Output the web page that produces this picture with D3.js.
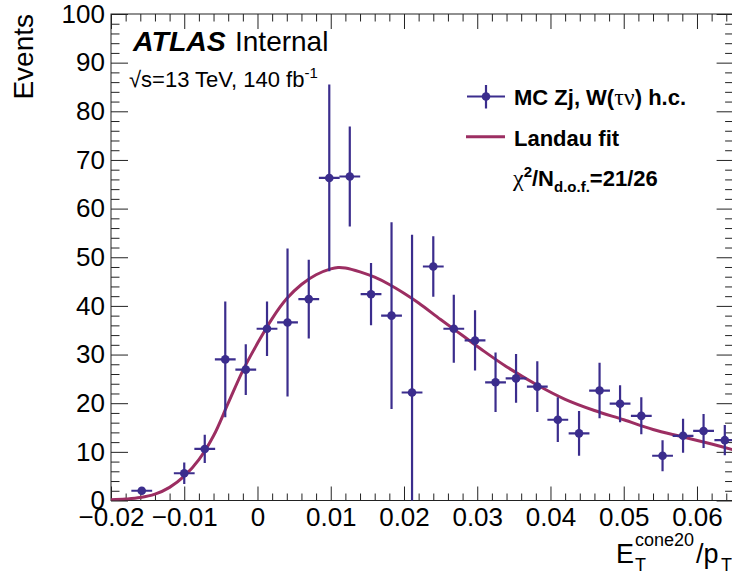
<!DOCTYPE html>
<html><head><meta charset="utf-8">
<script src="https://cdn.jsdelivr.net/npm/d3@7"></script>
<style>body{margin:0;background:#fff}</style>
</head><body>
<svg id="c" width="732" height="576"></svg>
<script>
// ---- data ----
const binCenters = [-0.0158, -0.0100, -0.0072, -0.0044, -0.0016, 0.0013, 0.0041, 0.0070, 0.0098, 0.0126,
  0.0155, 0.0183, 0.0211, 0.0240, 0.0268, 0.0297, 0.0325, 0.0353, 0.0382, 0.0410,
  0.0439, 0.0467, 0.0495, 0.0524, 0.0553, 0.0581, 0.0609, 0.0638];
const eventCounts = [2.0, 5.6, 10.6, 29.0, 26.9, 35.3, 36.6, 41.4, 66.3, 66.6,
  42.4, 38.0, 22.2, 48.1, 35.3, 32.9, 24.3, 25.1, 23.4, 16.6,
  13.8, 22.6, 19.9, 17.4, 9.2, 13.3, 14.3, 12.4];
const eventErrors = [0.7, 2.2, 2.9, 11.9, 5.2, 5.6, 15.2, 8.1, 19.2, 10.3,
  6.4, 19.2, 32.4, 6.2, 7.0, 6.2, 6.1, 5.0, 5.2, 4.6,
  4.6, 5.7, 3.8, 3.8, 3.2, 3.5, 3.5, 3.1];
const halfBinWidth = 0.00142;
const fitX = [-0.020, -0.018, -0.016, -0.014, -0.012, -0.010, -0.008, -0.006, -0.004, -0.002,
  0.000, 0.002, 0.004, 0.006, 0.008, 0.010, 0.011, 0.012, 0.014, 0.016,
  0.018, 0.020, 0.022, 0.025, 0.028, 0.031, 0.034, 0.038, 0.042, 0.046,
  0.050, 0.054, 0.058, 0.062, 0.065];
const fitY = [0.15, 0.3, 0.6, 1.3, 2.7, 5.0, 8.4, 13.3, 20.0, 26.7,
  32.3, 37.4, 41.5, 44.4, 46.4, 47.6, 47.9, 47.8, 47.0, 45.9,
  44.4, 42.6, 40.6, 37.2, 33.9, 30.6, 27.5, 23.9, 20.8, 18.5,
  16.6, 14.6, 13.1, 11.6, 10.4];
const xTicks = [-0.02, -0.01, 0, 0.01, 0.02, 0.03, 0.04, 0.05, 0.06];
const xTickLabels = ["\u22120.02", "\u22120.01", "0", "0.01", "0.02", "0.03", "0.04", "0.05", "0.06"];
const yTicks = [0, 10, 20, 30, 40, 50, 60, 70, 80, 90, 100];
const yTickLabels = ["0", "10", "20", "30", "40", "50", "60", "70", "80", "90", "100"];

// ---- layout ----
const FONT = "'Liberation Sans', Arial, Helvetica, sans-serif";
const SERIF = "'Liberation Serif', 'Times New Roman', serif";
const pointColor = "#3b2d8d";
const fitColor = "#9c2e62";
const axisColor = "#222";

const svg = d3.select("#c");
const x = d3.scaleLinear().domain([-0.02, 0.065]).range([111, 733.6]);
const y = d3.scaleLinear().domain([0, 100]).range([500.5, 14]);
const L = x.range()[0], R = x.range()[1], T = y.range()[1], B = y.range()[0];

svg.append("defs").append("clipPath").attr("id", "frame")
  .append("rect").attr("x", L).attr("y", T).attr("width", R - L).attr("height", B - T);

// minor tick positions
const xMinor = d3.range(-0.02, 0.0651, 0.002).filter(v => xTicks.every(t => Math.abs(t - v) > 1e-6));
const yMinor = d3.range(0, 100.1, 2).filter(v => v % 10 !== 0);

function styleAxis(g) {
  g.select(".domain").remove();
  g.selectAll("line").attr("stroke", axisColor).attr("stroke-width", 1);
  g.selectAll("text").attr("fill", "#000").attr("font-family", FONT).attr("font-size", 26);
}
// bottom
svg.append("g").attr("transform", `translate(0,${B})`)
  .call(d3.axisBottom(x).tickValues(xTicks).tickFormat((d, i) => xTickLabels[i]).tickSizeInner(-14).tickSizeOuter(0).tickPadding(7.5))
  .call(styleAxis);
svg.append("g").attr("transform", `translate(0,${B})`)
  .call(d3.axisBottom(x).tickValues(xMinor).tickFormat("").tickSizeInner(-7).tickSizeOuter(0))
  .call(styleAxis);
// top
svg.append("g").attr("transform", `translate(0,${T})`)
  .call(d3.axisTop(x).tickValues(xTicks).tickFormat("").tickSizeInner(-15).tickSizeOuter(0))
  .call(styleAxis);
svg.append("g").attr("transform", `translate(0,${T})`)
  .call(d3.axisTop(x).tickValues(xMinor).tickFormat("").tickSizeInner(-7.5).tickSizeOuter(0))
  .call(styleAxis);
// left
svg.append("g").attr("transform", `translate(${L},0)`)
  .call(d3.axisLeft(y).tickValues(yTicks).tickFormat((d, i) => yTickLabels[i]).tickSizeInner(-17).tickSizeOuter(0).tickPadding(6))
  .call(styleAxis);
svg.append("g").attr("transform", `translate(${L},0)`)
  .call(d3.axisLeft(y).tickValues(yMinor).tickFormat("").tickSizeInner(-8.5).tickSizeOuter(0))
  .call(styleAxis);
// right
svg.append("g").attr("transform", `translate(${R},0)`)
  .call(d3.axisRight(y).tickValues(yTicks).tickFormat("").tickSizeInner(-17).tickSizeOuter(0))
  .call(styleAxis);
svg.append("g").attr("transform", `translate(${R},0)`)
  .call(d3.axisRight(y).tickValues(yMinor).tickFormat("").tickSizeInner(-8.5).tickSizeOuter(0))
  .call(styleAxis);

// frame
svg.append("rect").attr("x", L).attr("y", T).attr("width", R - L).attr("height", B - T)
  .attr("fill", "none").attr("stroke", axisColor).attr("stroke-width", 1);

// fit curve
const plot = svg.append("g").attr("clip-path", "url(#frame)");
const fitData = fitX.map((v, i) => [v, fitY[i]]);
plot.append("path").datum(fitData)
  .attr("fill", "none").attr("stroke", fitColor).attr("stroke-width", 3)
  .attr("d", d3.line().x(d => x(d[0])).y(d => y(d[1])).curve(d3.curveCatmullRom.alpha(0.5)));

// data points
const pts = binCenters.map((c, i) => ({ c, v: eventCounts[i], e: eventErrors[i] }));
const pg = plot.append("g").attr("stroke", pointColor).attr("stroke-width", 2.2);
pg.selectAll("line.h").data(pts).join("line").attr("class", "h")
  .attr("x1", d => x(d.c - halfBinWidth)).attr("x2", d => x(d.c + halfBinWidth))
  .attr("y1", d => y(d.v)).attr("y2", d => y(d.v));
pg.selectAll("line.v").data(pts).join("line").attr("class", "v")
  .attr("x1", d => x(d.c)).attr("x2", d => x(d.c))
  .attr("y1", d => y(d.v - d.e)).attr("y2", d => y(d.v + d.e));
plot.selectAll("circle").data(pts).join("circle")
  .attr("cx", d => x(d.c)).attr("cy", d => y(d.v)).attr("r", 4.3).attr("fill", pointColor);

// ---- texts ----
// y title
svg.append("text").attr("transform", "translate(33,14) rotate(-90)")
  .attr("text-anchor", "end").attr("font-family", FONT).attr("font-size", 28).text("Events");

// x title
const xt = svg.append("g").attr("font-family", FONT).attr("fill", "#000");
xt.append("text").attr("x", 616).attr("y", 562.5).attr("font-size", 27).text("E");
xt.append("text").attr("x", 635).attr("y", 571).attr("font-size", 18).text("T");
xt.append("text").attr("x", 635).attr("y", 546).attr("font-size", 18).text("cone20");
xt.append("text").attr("x", 696).attr("y", 562.5).attr("font-size", 27).text("/p");
xt.append("text").attr("x", 721).attr("y", 571).attr("font-size", 18).text("T");

// ATLAS label
svg.append("text").attr("x", 133).attr("y", 50.5).attr("font-family", FONT).attr("font-size", 28.5)
  .attr("font-weight", "bold").attr("font-style", "italic").text("ATLAS");
svg.append("text").attr("x", 235).attr("y", 50.5).attr("font-family", FONT).attr("font-size", 28).text("Internal");

const en = svg.append("text").attr("x", 129).attr("y", 87).attr("font-family", FONT).attr("font-size", 22);
en.append("tspan").text("\u221As=13 TeV, 140 fb");
en.append("tspan").attr("font-size", 15).attr("dy", -9).text("-1");

// legend
const lg = svg.append("g");
lg.append("line").attr("x1", 467).attr("x2", 505).attr("y1", 96.5).attr("y2", 96.5).attr("stroke", pointColor).attr("stroke-width", 2.2);
lg.append("line").attr("x1", 486).attr("x2", 486).attr("y1", 85).attr("y2", 108.5).attr("stroke", pointColor).attr("stroke-width", 2.2);
lg.append("circle").attr("cx", 486).attr("cy", 96.5).attr("r", 4.3).attr("fill", pointColor);
const t1 = lg.append("text").attr("x", 514).attr("y", 105).attr("font-family", FONT).attr("font-size", 22).attr("font-weight", "bold");
t1.append("tspan").text("MC Zj, W(");
t1.append("tspan").attr("font-family", SERIF).attr("font-weight", "normal").attr("font-size", 24).text("\u03C4\u03BD");
t1.append("tspan").text(") h.c.");

lg.append("line").attr("x1", 466).attr("x2", 505).attr("y1", 136.7).attr("y2", 136.7).attr("stroke", fitColor).attr("stroke-width", 3);
lg.append("text").attr("x", 514).attr("y", 145.5).attr("font-family", FONT).attr("font-size", 22).attr("font-weight", "bold").text("Landau fit");

const t3 = lg.append("text").attr("x", 513).attr("y", 186).attr("font-family", FONT).attr("font-size", 22).attr("font-weight", "bold");
t3.append("tspan").attr("font-family", SERIF).attr("font-weight", "normal").attr("font-size", 24).text("\u03C7");
t3.append("tspan").attr("font-size", 15).attr("dy", -9).text("2");
t3.append("tspan").attr("dy", 9).text("/N");
t3.append("tspan").attr("font-size", 15).attr("dy", 6).text("d.o.f.");
t3.append("tspan").attr("dy", -6).text("=21/26");
</script>
</body></html>
